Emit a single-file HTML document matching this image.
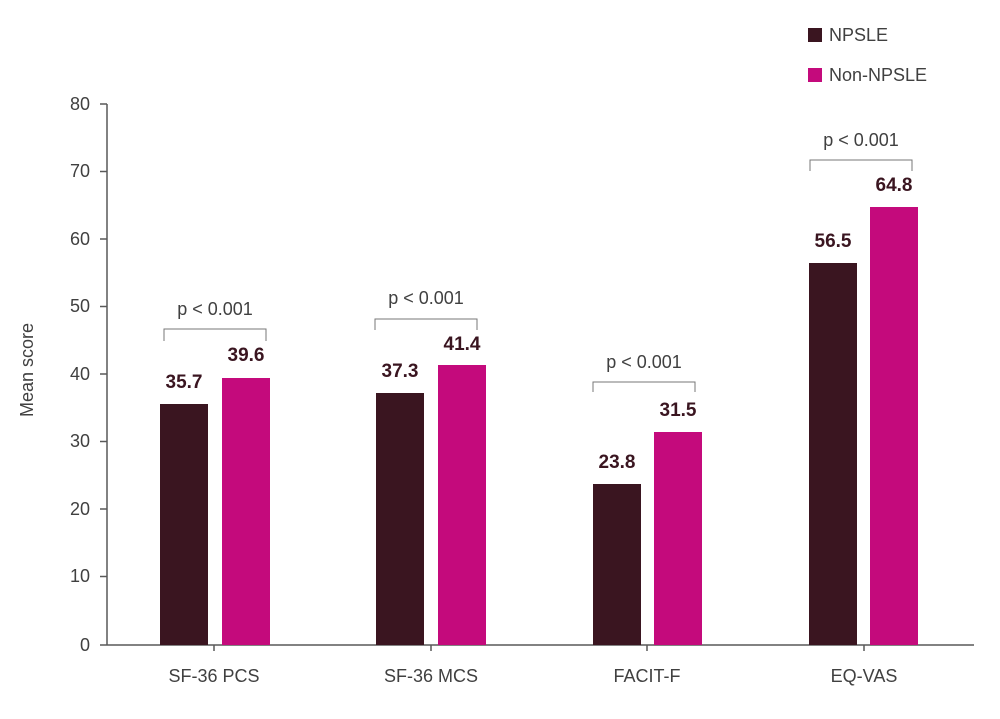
<!DOCTYPE html>
<html><head><style>body{margin:0;background:#fff}</style></head><body>
<svg width="1000" height="714" xmlns="http://www.w3.org/2000/svg" font-family="Liberation Sans, sans-serif">
<rect width="1000" height="714" fill="#fff"/>
<g stroke="#595959" stroke-width="1.5">
<line x1="107" y1="104" x2="107" y2="645"/>
<line x1="100" y1="645" x2="974" y2="645"/>
<line x1="100" y1="104" x2="107" y2="104"/><line x1="100" y1="171.5" x2="107" y2="171.5"/>
<line x1="100" y1="239" x2="107" y2="239"/><line x1="100" y1="306.5" x2="107" y2="306.5"/>
<line x1="100" y1="374" x2="107" y2="374"/><line x1="100" y1="441.5" x2="107" y2="441.5"/>
<line x1="100" y1="509" x2="107" y2="509"/><line x1="100" y1="576.5" x2="107" y2="576.5"/>
<line x1="214" y1="645" x2="214" y2="651"/><line x1="431" y1="645" x2="431" y2="651"/>
<line x1="647" y1="645" x2="647" y2="651"/><line x1="864" y1="645" x2="864" y2="651"/>
</g>
<g font-size="18" fill="#404040" text-anchor="end">
<text x="90" y="110">80</text><text x="90" y="177">70</text><text x="90" y="245">60</text>
<text x="90" y="312">50</text><text x="90" y="380">40</text><text x="90" y="447">30</text>
<text x="90" y="515">20</text><text x="90" y="582">10</text><text x="90" y="651">0</text>
</g>
<text transform="translate(33,370) rotate(-90)" font-size="18" fill="#404040" text-anchor="middle">Mean score</text>
<g font-size="18" fill="#404040" text-anchor="middle">
<text x="214" y="682">SF-36 PCS</text><text x="431" y="682">SF-36 MCS</text>
<text x="647" y="682">FACIT-F</text><text x="864" y="682">EQ-VAS</text>
</g>
<g fill="#3a1520">
<rect x="160" y="404" width="48" height="241"/>
<rect x="376" y="393" width="48" height="252"/>
<rect x="593" y="484" width="48" height="161"/>
<rect x="809" y="263" width="48" height="382"/>
</g>
<g fill="#c40a7c">
<rect x="222" y="378" width="48" height="267"/>
<rect x="438" y="365" width="48" height="280"/>
<rect x="654" y="432" width="48" height="213"/>
<rect x="870" y="207" width="48" height="438"/>
</g>
<g font-size="19" font-weight="bold" fill="#3a1520" text-anchor="middle">
<text x="184" y="388">35.7</text><text x="246" y="361">39.6</text>
<text x="400" y="377">37.3</text><text x="462" y="350">41.4</text>
<text x="617" y="468">23.8</text><text x="678" y="416">31.5</text>
<text x="833" y="247">56.5</text><text x="894" y="191">64.8</text>
</g>
<g fill="none" stroke="#777" stroke-width="1">
<path d="M164,341 V329 H266 V341"/>
<path d="M375,330 V319 H477 V330"/>
<path d="M593,392 V382 H695 V392"/>
<path d="M810,171 V160 H912 V171"/>
</g>
<g font-size="18" fill="#404040" text-anchor="middle">
<text x="215" y="315">p &lt; 0.001</text>
<text x="426" y="304">p &lt; 0.001</text>
<text x="644" y="368">p &lt; 0.001</text>
<text x="861" y="146">p &lt; 0.001</text>
</g>
<rect x="808" y="28" width="14" height="14" fill="#3a1520"/>
<rect x="808" y="68" width="14" height="14" fill="#c40a7c"/>
<g font-size="18" fill="#404040">
<text x="829" y="41">NPSLE</text><text x="829" y="81">Non-NPSLE</text>
</g>
</svg>
</body></html>
